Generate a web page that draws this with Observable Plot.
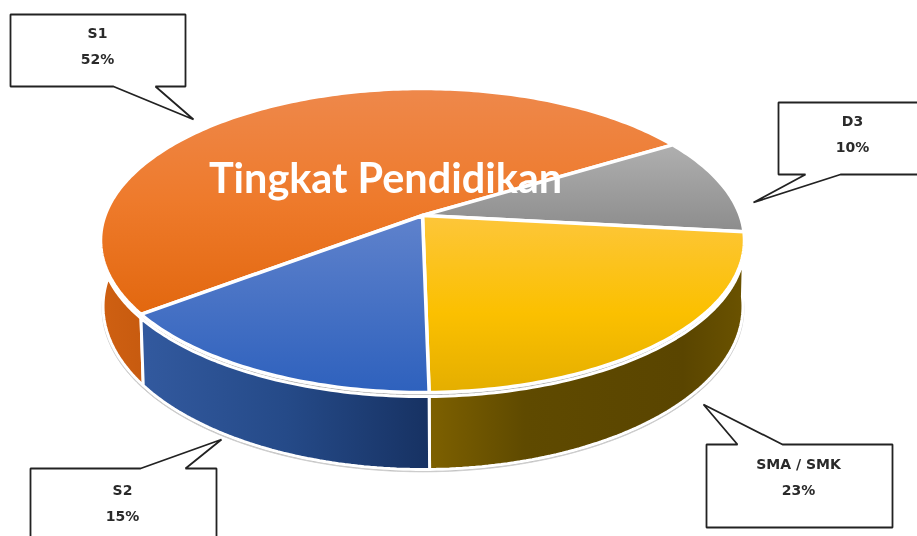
<!DOCTYPE html>
<html>
<head>
<meta charset="utf-8">
<style>
html,body{margin:0;padding:0;background:#fff;overflow:hidden}
svg{display:block;filter:blur(0.45px)}
</style>
<script src="https://cdn.jsdelivr.net/npm/d3@7"></script>
<script src="https://cdn.jsdelivr.net/npm/@observablehq/plot@0.6"></script>
</head>
<body>
<div id="chart"></div>
<script>
// Data: slice sizes; the printed labels are whole percents
const categories = ["S1", "D3", "SMA / SMK", "S2"];
const shares = [51.6, 10.4, 23, 15];
const chartTitle = "Tingkat Pendidikan";

// Styling, per category
const topGradients = [
  [[0, "#ee884b"], [0.5, "#ee7a2b"], [1, "#e2670e"]],
  [[0, "#b0b0b0"], [1, "#8c8c8c"]],
  [[0, "#fdc63a"], [0.55, "#fbc000"], [1, "#e4ae00"]],
  [[0, "#5f82cc"], [1, "#2e61bd"]]
];
const topSpans = [[88, 316], [143, 232], [215, 392], [215, 392]];
const wallColors = [
  [[0, "#cf6012"], [1, "#c65a0f"]],
  [[0, "#7f7f7f"], [1, "#7f7f7f"]],
  [[0, "#7d6000"], [0.3, "#5f4a00"], [0.8, "#5a4500"], [1, "#6b5300"]],
  [[0, "#32599e"], [0.5, "#254a88"], [1, "#173263"]]
];
const wallSpans = [[100, 150], [700, 745], [430, 745], [145, 427]];

// Layout of the tilted disc
const firstSliceDegrees = 233;
const perspective = 0.1645;
const topDisc = {x0: 422, y0: 215, a: 317.6, b: 147.9};
const wallEdge = {x0: 422, y0: 219, a: 317.6, b: 147.9};
const baseDisc = {x0: 422.5, y0: 279, a: 315.6, b: 158.7};
const shadowDisc = {x0: 422.5, y0: 281, a: 316.5, b: 159};

// Callouts: box [left, top, right, bottom], pointer base x0, x1 and tip
const callouts = [
  {box: [10, 14, 185, 86], base: [155, 113], edge: "bottom", tip: [193, 119], text: [97, 33]},
  {box: [778, 102, 925, 174], base: [840, 805], edge: "bottom", tip: [753, 202], text: [852, 121]},
  {box: [706, 444, 892, 527], base: [737, 782], edge: "top", tip: [703, 404], text: [798, 464]},
  {box: [30, 468, 216, 545], base: [140, 185], edge: "top", tip: [221, 439], text: [122, 490]}
];

// Helpers
const project = (deg, d) => {
  const t = deg * Math.PI / 180, u = Math.sin(t), v = Math.cos(t), w = 1 + perspective * v;
  return {x: d.x0 + d.a * u / w, y: d.y0 - d.b * v / w};
};
const arc = (from, to, d) => {
  const n = Math.max(2, Math.ceil(Math.abs(to - from)));
  return d3.range(n + 1).map(i => project(from + (to - from) * i / n, d));
};
const sliceAngles = d3.pie().sort(null).value(d => d)
  .startAngle(firstSliceDegrees * Math.PI / 180)
  .endAngle((firstSliceDegrees + 360) * Math.PI / 180)(shares)
  .map(s => [s.startAngle * 180 / Math.PI, s.endAngle * 180 / Math.PI]);

const grad = (defs, id, stops, x1, y1, x2, y2) => {
  const g = defs.append("linearGradient").attr("id", id).attr("gradientUnits", "userSpaceOnUse")
    .attr("x1", x1).attr("y1", y1).attr("x2", x2).attr("y2", y2);
  stops.forEach(([o, c]) => g.append("stop").attr("offset", o).attr("stop-color", c));
};
const defsMark = () => {
  const svg = d3.create("svg:g");
  const defs = svg.append("defs");
  categories.forEach((_, i) => {
    grad(defs, "top" + i, topGradients[i], 0, topSpans[i][0], 0, topSpans[i][1]);
    grad(defs, "wall" + i, wallColors[i], wallSpans[i][0], 0, wallSpans[i][1], 0);
  });
  return svg.node();
};

const poly = (pts, o) => Plot.line(pts, {x: "x", y: "y", curve: "linear-closed", ...o});

const marks = [defsMark];

// soft ground edge below the walls
marks.push(poly(arc(0, 360, shadowDisc), {fill: "#b4b4b4", stroke: "#cfcfcf", strokeWidth: 1}));

// walls of the near side: the top disc hides whatever they overshoot
const wallArcs = [
  [sliceAngles[0][0], sliceAngles[0][0] + 55],
  null,
  [sliceAngles[2][0] - 360, sliceAngles[2][1] - 360],
  [sliceAngles[3][0] - 360, sliceAngles[3][1] - 360]
];
wallArcs.forEach((range, i) => {
  if (!range) return;
  const [from, to] = range;
  marks.push(poly([...arc(from, to, wallEdge), ...arc(to, from, baseDisc)], {
    fill: `url(#wall${i})`, stroke: "white", strokeWidth: 3, strokeLinejoin: "miter"
  }));
});
// white rim between walls and top disc
marks.push(poly(arc(0, 360, topDisc), {fill: "white", stroke: "white", strokeWidth: 3}));

// top slices
categories.forEach((_, i) => {
  const [from, to] = sliceAngles[i];
  marks.push(poly([{x: topDisc.x0, y: topDisc.y0}, ...arc(from, to, topDisc)], {
    fill: `url(#top${i})`, stroke: "white", strokeWidth: 3.5, strokeLinejoin: "round"
  }));
});

// title
marks.push(Plot.text([chartTitle], {
  frameAnchor: "top-left", dx: 385, dy: 179, textAnchor: "middle", lineAnchor: "middle",
  text: d => d, fill: "white", fontFamily: "Lato", fontWeight: 700, fontSize: 41.4
}));

// callouts
callouts.forEach((c, i) => {
  const [l, t, r, b] = c.box;
  const pts = (c.edge === "bottom"
    ? [[l, t], [r, t], [r, b], [c.base[0], b], c.tip, [c.base[1], b], [l, b]]
    : [[l, t], [c.base[0], t], c.tip, [c.base[1], t], [r, t], [r, b], [l, b]]
  ).map(([x, y]) => ({x, y}));
  marks.push(poly(pts, {fill: "white", stroke: "#222", strokeWidth: 1.8, strokeLinejoin: "miter"}));
  const lines = [categories[i], Math.round(shares[i]) + "%"];
  marks.push(Plot.text(lines, {
    x: () => c.text[0], y: (_, j) => c.text[1] + j * 26,
    text: d => d, fill: "#2a2a2a", fontFamily: "DejaVu Sans", fontWeight: 700, fontSize: 14,
    textAnchor: "middle", lineAnchor: "middle"
  }));
});

const chart = Plot.plot({
  width: 917, height: 536,
  margin: 0,
  x: {domain: [0, 917], range: [0, 917], axis: null},
  y: {domain: [0, 536], range: [0, 536], axis: null},
  style: {background: "white"},
  marks
});
document.getElementById("chart").append(chart);
</script>
</body>
</html>
